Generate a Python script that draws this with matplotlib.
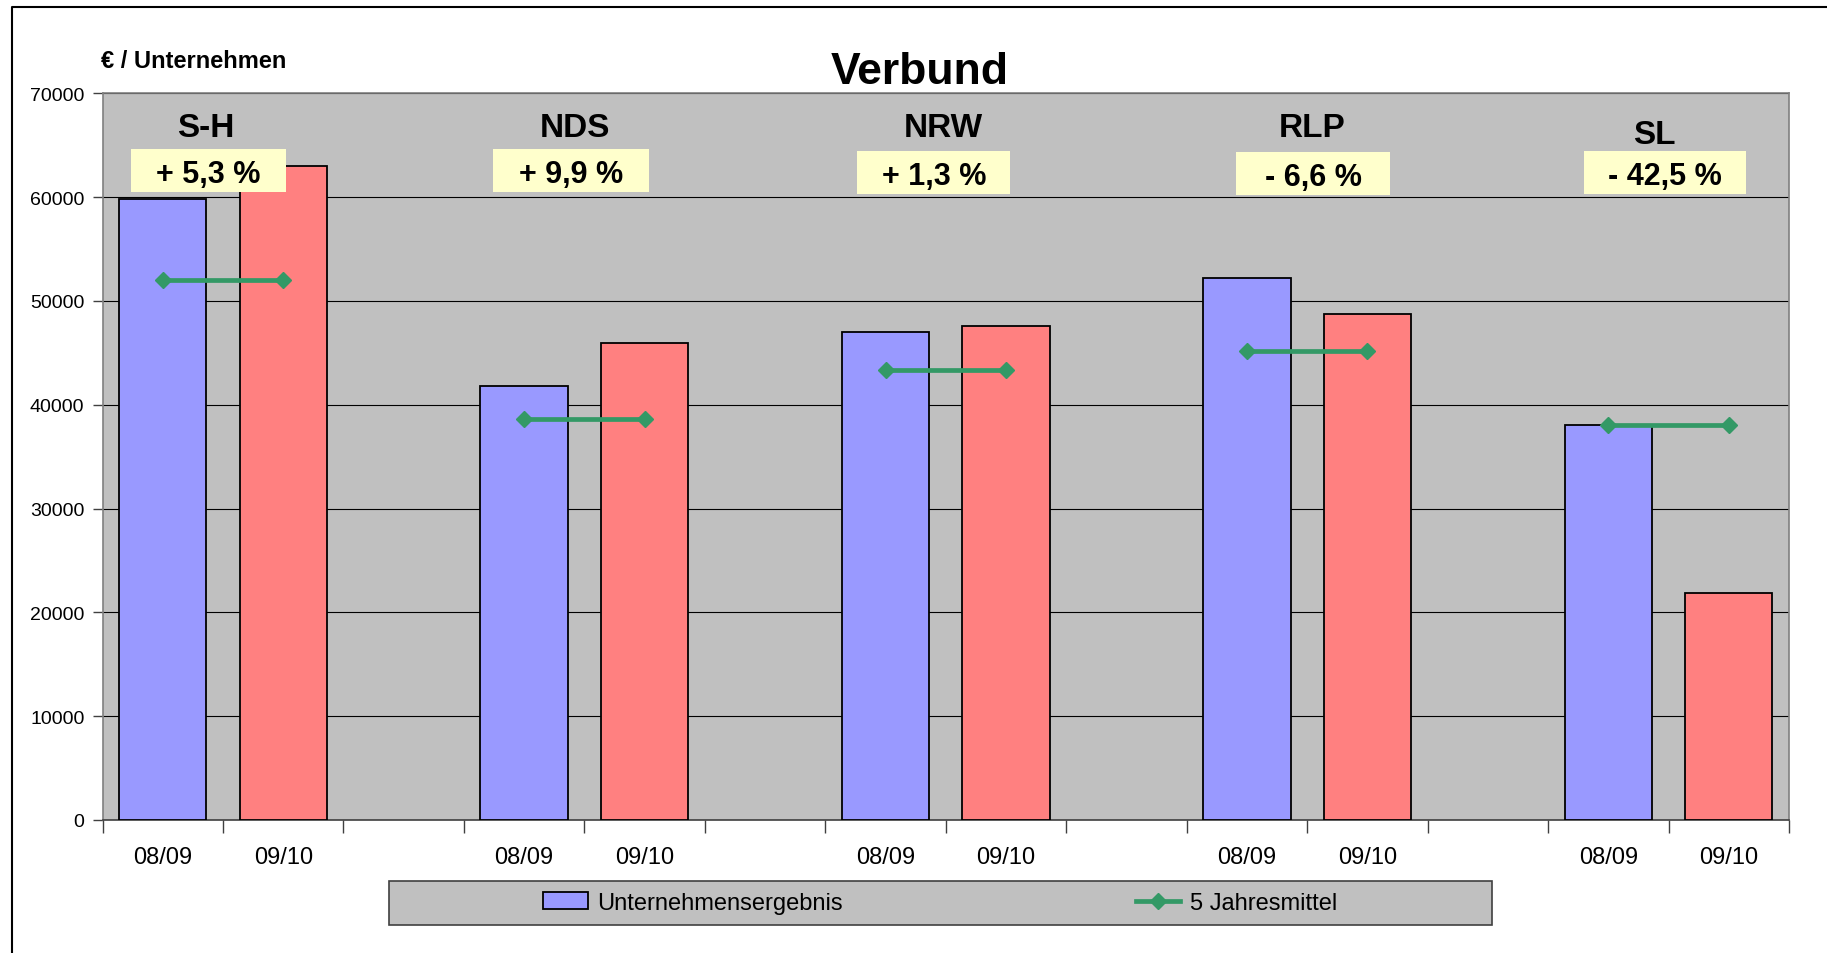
import numpy as np
import matplotlib
matplotlib.use("Agg")
import matplotlib.pyplot as plt
from matplotlib import font_manager
from matplotlib.patches import Rectangle, Patch
from matplotlib.lines import Line2D

# data
regions = ["S-H", "NDS", "NRW", "RLP", "SL"]
years = ["08/09", "09/10"]
ergebnis_0809 = [59800, 41850, 47000, 52200, 38100]
ergebnis_0910 = [63000, 46000, 47600, 48750, 21900]
jahresmittel = [52000, 38600, 43400, 45200, 38100]
changes = ["+ 5,3 %", "+ 9,9 %", "+ 1,3 %", "- 6,6 %", "- 42,5 %"]

# label placement (data coords, hand placed text boxes like in the original)
name_x = [0.36, 3.42, 6.48, 9.54, 12.38]
name_y = [66750, 66750, 66750, 66750, 66050]
box_x = [0.38, 3.39, 6.40, 9.55, 12.47]
box_y = [62540, 62600, 62370, 62260, 62370]
box_w = [1.28, 1.30, 1.27, 1.28, 1.34]


def pick(*names):
    avail = {f.name for f in font_manager.fontManager.ttflist}
    for n in names:
        if n in avail:
            return n
    return "DejaVu Sans"


narrow = pick("Liberation Sans Narrow", "Arial Narrow", "Liberation Sans")
wide = pick("Liberation Sans", "Arial")

n_cat = len(regions) * 3 - 1
pos_a = np.arange(len(regions)) * 3
pos_b = pos_a + 1

fig = plt.figure(figsize=(18.27, 9.54), dpi=100)
ax = fig.add_axes([102.5 / 1827, 133 / 954, 1686.5 / 1827, 726.6 / 954])
ax.set_facecolor("#C0C0C0")

bw = 0.725
ax.bar(pos_a, ergebnis_0809, width=bw, color="#9999FF", edgecolor="black", linewidth=1.3, zorder=3)
ax.bar(pos_b, ergebnis_0910, width=bw, color="#FF8080", edgecolor="black", linewidth=1.3, zorder=3)

# 5 Jahresmittel: a line per region, gaps between groups
line_y = np.full(n_cat, np.nan)
for i, v in enumerate(jahresmittel):
    line_y[pos_a[i]] = v
    line_y[pos_b[i]] = v
ax.plot(np.arange(n_cat), line_y, color="#339966", lw=3.4, marker="D", ms=8.5, zorder=4)

ax.set_xlim(-0.5, n_cat - 0.5)
ax.set_ylim(0, 70000)
ax.set_yticks(np.arange(0, 70001, 10000))
ax.yaxis.grid(True, color="black", lw=0.8, zorder=0)
ax.set_axisbelow(True)

ax.set_xticks(np.concatenate([pos_a, pos_b]))
ax.set_xticklabels(years[:1] * len(regions) + years[1:] * len(regions))
ax.set_xticks(np.arange(n_cat + 1) - 0.5, minor=True)
ax.tick_params(axis="x", which="major", length=0, pad=19, labelsize=17)
ax.tick_params(axis="x", which="minor", length=9, width=1, color="#404040")
ax.tick_params(axis="y", length=7, width=1, color="#404040", pad=6, labelsize=14)
for lab in ax.get_xticklabels() + ax.get_yticklabels():
    lab.set_fontfamily(narrow)

for s in ["left", "top", "right"]:
    ax.spines[s].set_color("#808080")
    ax.spines[s].set_linewidth(1.2)
ax.spines["bottom"].set_color("#404040")
ax.spines["bottom"].set_linewidth(1.2)

for i, r in enumerate(regions):
    ax.text(name_x[i], name_y[i], r, ha="center", va="center", fontsize=24,
            fontweight="bold", family=narrow, zorder=6)
    ax.add_patch(Rectangle((box_x[i] - box_w[i] / 2, box_y[i] - 2075), box_w[i], 4150,
                           facecolor="#FFFFCC", edgecolor="none", zorder=5))
    ax.text(box_x[i], box_y[i] - 350, changes[i], ha="center", va="center", fontsize=22,
            fontweight="bold", family=narrow, zorder=6)

fig.text(0.5036, 1 - 72 / 954, "Verbund", ha="center", va="center", fontsize=32,
         fontweight="bold", family=wide)
fig.text(101 / 1827, 1 - 61.5 / 954, "€ / Unternehmen", ha="left", va="center",
         fontsize=17, fontweight="bold", family=narrow)

# legend background box
fig.patches.append(Rectangle((389 / 1827, 1 - 926 / 954), 1103 / 1827, 44 / 954,
                             transform=fig.transFigure, facecolor="#C0C0C0",
                             edgecolor="#404040", lw=1.2))
handles = [Patch(facecolor="#9999FF", edgecolor="black", lw=1.3),
           Line2D([], [], color="#339966", lw=3.4, marker="D", ms=8.5)]
fig.legend(handles, ["Unternehmensergebnis", "5 Jahresmittel"], loc="center",
           bbox_to_anchor=(940 / 1827, 1 - 904 / 954), ncol=2, frameon=False,
           prop={"family": narrow, "size": 17}, handlelength=1.9,
           handletextpad=0.4, columnspacing=12.4)

# outer frame (left and top edges)
fig.lines.append(Line2D([12 / 1827, 12 / 1827, 1.0], [0.0, 1 - 8 / 954, 1 - 8 / 954],
                        transform=fig.transFigure, color="black", lw=1.5))

fig.savefig("out.png", dpi=100)
